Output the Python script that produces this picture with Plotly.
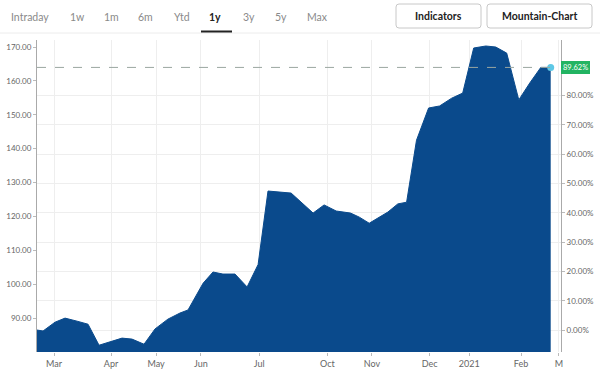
import plotly.graph_objects as go

# ---- data (x = position on an index axis of weekly points) ----
week_pos = [0, 0.55, 1.64, 2.55, 3.64, 4.64, 5.64, 6.64, 7.73, 8.64, 9.73, 10.73, 11.9, 13.0,
            13.73, 15.1, 16.0, 16.9, 18.0, 19.1, 20.1, 21.0, 22.6, 23.1, 25.1, 26.1, 27.2,
            28.5, 29.3, 30.2, 31.9, 32.8, 33.6, 34.5, 35.6, 36.6, 37.7, 38.7, 39.7, 40.8,
            41.7, 42.7, 43.8, 44.8, 45.8, 46.7]
price = [86.48, 86.2, 88.8, 90.0, 89.1, 88.2, 82.0, 82.9, 84.1, 83.8, 82.3, 86.8, 89.7, 91.5,
         92.4, 100.3, 103.6, 103.0, 103.0, 99.2, 105.8, 127.5, 127.2, 126.9, 121.0, 123.4, 121.6,
         121.0, 119.8, 118.0, 121.3, 123.7, 124.2, 142.5, 152.0, 152.6, 154.9, 156.4, 169.7, 170.3,
         170.0, 168.2, 154.4, 159.4, 163.98, 163.98]

tick_pos = [1.55, 6.73, 10.82, 14.9, 20.2, 26.4, 30.45, 35.7, 39.3, 44.0, 47.45]
tick_text = ["Mar", "Apr", "May", "Jun", "Jul", "Oct", "Nov", "Dec", "2021", "Feb", "M"]

left_ticks = [90, 100, 110, 120, 130, 140, 150, 160, 170]
right_ticks = [0, 10, 20, 30, 40, 50, 60, 70, 80]
tabs = ["Intraday", "1w", "1m", "6m", "Ytd", "1y", "3y", "5y", "Max"]
buttons = ["Indicators", "Mountain-Chart"]

base = price[0]
pct = [(p / base - 1) * 100 for p in price]
y_range = [80, 172.07]
y2_range = [(v / base - 1) * 100 for v in y_range]
last_pct = pct[-1]

W, H = 600, 381
ML, MR, MT, MB = 37, 39, 40, 29
PW, PH = W - ML - MR, H - MT - MB


def px(xp):
    return (xp - ML) / PW


def py(yp):
    return (H - MB - yp) / PH


FILL = "#0a4a8c"
FONT = "Lato, Open Sans, sans-serif"

fig = go.Figure()
fig.add_trace(go.Scatter(x=week_pos, y=price, mode="lines", fill="tozeroy",
                         line=dict(color=FILL, width=1), fillcolor=FILL,
                         hoverinfo="skip", showlegend=False))
fig.add_trace(go.Scatter(x=week_pos, y=pct, mode="lines", yaxis="y2",
                         line=dict(color="rgba(0,0,0,0)", width=0),
                         hoverinfo="skip", showlegend=False))
# end-point marker
fig.add_trace(go.Scatter(x=[week_pos[-1]], y=[price[-1]], mode="markers",
                         marker=dict(color="#5ec8e6", size=7),
                         hoverinfo="skip", showlegend=False, cliponaxis=False))

fig.add_shape(type="line", xref="x", yref="y", x0=0, x1=week_pos[-1],
              y0=price[-1], y1=price[-1], line=dict(color="#9aa7a0", width=1, dash="dash"),
              layer="above")

shapes = []
# separator under tabs
shapes.append(dict(type="line", xref="paper", yref="paper", x0=px(0), x1=px(600),
                   y0=py(33), y1=py(33), line=dict(color="#ececec", width=1)))
# underline active tab
shapes.append(dict(type="line", xref="paper", yref="paper", x0=px(201), x1=px(232),
                   y0=py(31.5), y1=py(31.5), line=dict(color="#222", width=2)))


def rounded(x0, y0, x1, y1, r=3):
    a0, a1 = px(x0), px(x1)
    b0, b1 = py(y1), py(y0)
    rx, ry = r / PW, r / PH
    return (f"M {a0+rx},{b0} L {a1-rx},{b0} Q {a1},{b0} {a1},{b0+ry} L {a1},{b1-ry} "
            f"Q {a1},{b1} {a1-rx},{b1} L {a0+rx},{b1} Q {a0},{b1} {a0},{b1-ry} "
            f"L {a0},{b0+ry} Q {a0},{b0} {a0+rx},{b0} Z")


btn_boxes = [(396, 4, 481, 28), (487, 4, 592, 28)]
for (x0, y0, x1, y1) in btn_boxes:
    shapes.append(dict(type="path", xref="paper", yref="paper", path=rounded(x0, y0, x1, y1),
                       line=dict(color="#c8c8c8", width=1), fillcolor="white"))
for s in shapes:
    fig.add_shape(**s)

tab_x = [30, 77, 111, 145, 182, 215, 249, 281, 317]
for t, xx in zip(tabs, tab_x):
    active = t == "1y"
    fig.add_annotation(x=px(xx), y=py(17), xref="paper", yref="paper", text=f"<b>{t}</b>" if active else t,
                       showarrow=False, xanchor="center", yanchor="middle",
                       font=dict(family=FONT, size=10.5, color="#222" if active else "#8a8a8a"))
for b, (x0, y0, x1, y1) in zip(buttons, btn_boxes):
    fig.add_annotation(x=px((x0 + x1) / 2), y=py(16), xref="paper", yref="paper", text=f"<b>{b}</b>",
                       showarrow=False, xanchor="center", yanchor="middle",
                       font=dict(family=FONT, size=10.5, color="#222"))

# value badge
fig.add_annotation(x=1.0, y=price[-1], xref="paper", yref="y", text=f"{last_pct:.2f}%",
                   showarrow=False, xanchor="left", yanchor="middle", xshift=0,
                   bgcolor="#22b462", bordercolor="#22b462", borderpad=1,
                   font=dict(family=FONT, size=7.5, color="white"))

fig.update_layout(
    width=W, height=H, margin=dict(l=ML, r=MR, t=MT, b=MB, autoexpand=False),
    paper_bgcolor="white", plot_bgcolor="white",
    font=dict(family=FONT, size=8.5, color="#666"),
    xaxis=dict(range=[0, PW / 11.0], tickvals=tick_pos, ticktext=tick_text, automargin=False,
               showgrid=True, gridcolor="#eeeeee", gridwidth=1, zeroline=False,
               ticks="outside", ticklen=3, tickcolor="#bbb", showline=False,
               tickfont=dict(size=9, color="#666")),
    yaxis=dict(range=y_range, tickvals=left_ticks, ticktext=[f"{v:.2f}" for v in left_ticks],
               automargin=False,
               showgrid=False, zeroline=False, showline=True, linecolor="#aaa",
               ticks="outside", ticklen=3, tickcolor="#bbb",
               tickfont=dict(size=8, color="#666")),
    yaxis2=dict(range=y2_range, overlaying="y", side="right", tickvals=right_ticks,
                ticktext=[f"{v:.2f}%" for v in right_ticks], showgrid=True, gridcolor="#eeeeee",
                zeroline=False, showline=True, linecolor="#aaa", automargin=False,
                ticks="outside", ticklen=3, tickcolor="#bbb",
                tickfont=dict(size=8, color="#666")),
)

fig.write_html("out.html", config={"displayModeBar": False},
               post_script="document.body.style.margin='0';document.body.style.padding='0';")
